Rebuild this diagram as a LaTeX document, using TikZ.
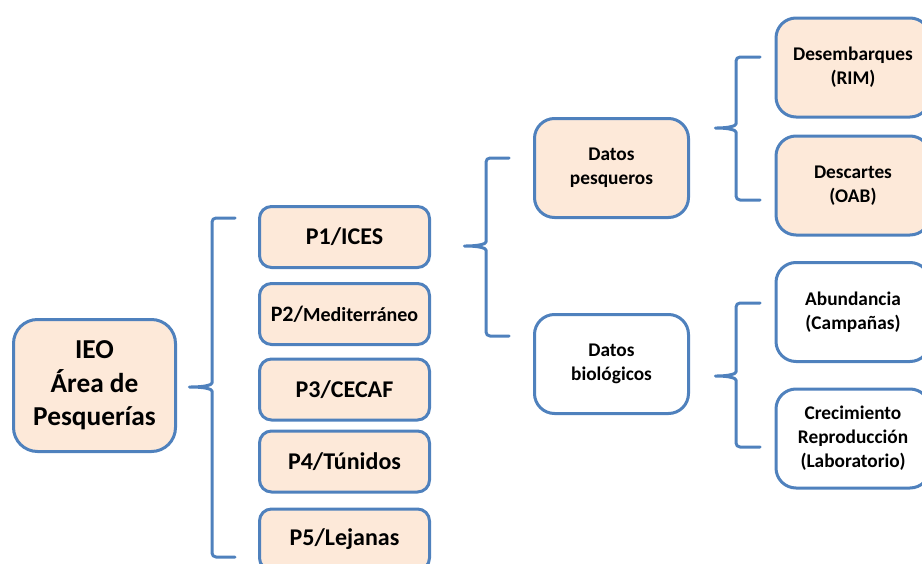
\documentclass[tikz,border=0pt]{standalone}
\usepackage{fontspec}
\setmainfont{Carlito}
\usepackage{tikz}
\definecolor{boxblue}{RGB}{79,129,189}
\definecolor{boxpeach}{RGB}{253,233,217}

\begin{document}
\begin{tikzpicture}[x=0.75pt,y=-0.75pt,
  box/.style={draw=boxblue,line width=2.25pt,fill=boxpeach,align=center,font=\bfseries,inner sep=0pt},
  whitebox/.style={box,fill=white},
  pbox/.style={box,minimum width=127.5pt,minimum height=45.75pt,rounded corners=9pt,font=\bfseries\fontsize{18}{22}\selectfont},
  databox/.style={minimum width=115.5pt,minimum height=74.25pt,rounded corners=15pt,font=\bfseries\fontsize{14.5}{18}\selectfont},
  bracket/.style={draw=boxblue,line width=2.25pt,line join=round,line cap=round,rounded corners=3pt}]
\useasboundingbox (0,0) rectangle (922,564);
\clip (0,0) rectangle (922,564);
% Root box
\node[box,minimum width=121.5pt,minimum height=99pt,rounded corners=18pt,font=\bfseries\fontsize{20.5}{25}\selectfont] (ieo) at (94.5,385.5) {IEO\\Área de\\Pesquerías};
% Programme boxes
\node[pbox] (p1) at (344.5,237) {P1/ICES};
\node[pbox] (p2) at (344.5,314) {{\fontsize{16.5}{20}\selectfont P2/}{\fontsize{15}{20}\selectfont Mediterráneo}};
\node[pbox] (p3) at (344.5,389.5) {P3/CECAF};
\node[pbox] (p4) at (344.5,461.5) {P4/Túnidos};
\node[pbox] (p5) at (344.5,539.5) {P5/Lejanas};
% Data boxes
\node[box,databox] (pesq) at (611.5,168) {Datos\\pesqueros};
\node[whitebox,databox] (biol) at (611.5,364) {Datos\\biológicos};
% Source boxes
\node[box,databox] (rim) at (853,67.5) {Desembarques\\(RIM)};
\node[box,databox] (oab) at (853,185.5) {Descartes\\(OAB)};
\node[whitebox,databox] (camp) at (853,312) {Abundancia\\(Campañas)};
\node[whitebox,databox] (lab) at (853,438.5) {Crecimiento\\Reproducción\\(Laboratorio)};
% Brace tips
\coordinate (ieotip) at (187,387);
\coordinate (p1tip) at (462,246);
\coordinate (pesqtip) at (713,128);
\coordinate (bioltip) at (713,376);
% Braces
\draw[bracket] (235,218) -- (212,218) -- (212,379) .. controls (212,385) and (204,387) .. (ieotip)
  .. controls (204,387) and (212,389) .. (212,395) -- (212,557) -- (235,557);
\draw[bracket] (509,158) -- (486,158) -- (486,238) .. controls (486,244) and (478,246) .. (p1tip)
  .. controls (478,246) and (486,248) .. (486,254) -- (486,336) -- (509,336);
\draw[bracket] (760,57) -- (736,57) -- (736,120) .. controls (736,126) and (728,128) .. (pesqtip)
  .. controls (728,128) and (736,130) .. (736,136) -- (736,200) -- (760,200);
\draw[bracket] (760,303) -- (736,303) -- (736,368) .. controls (736,374) and (728,376) .. (bioltip)
  .. controls (728,376) and (736,378) .. (736,384) -- (736,447) -- (760,447);
\end{tikzpicture}
\end{document}
